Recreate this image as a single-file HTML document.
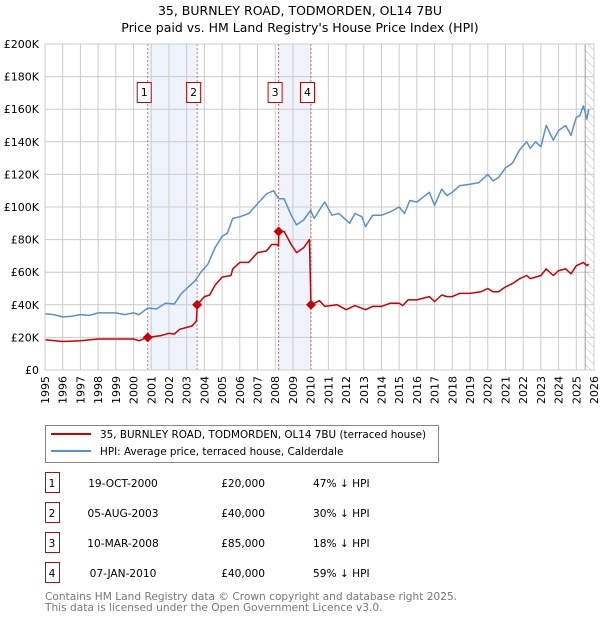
<!DOCTYPE html>
<html><head><meta charset="utf-8"><style>
body{margin:0;background:#fff;font-family:"DejaVu Sans","Liberation Sans",sans-serif;}
svg text{font-family:"DejaVu Sans","Liberation Sans",sans-serif;}
</style></head><body>
<svg id="c" width="600" height="620" xmlns="http://www.w3.org/2000/svg">
<defs><pattern id="hatch" width="6" height="6" patternUnits="userSpaceOnUse" patternTransform="rotate(-45)"><line x1="0" y1="0" x2="0" y2="6" stroke="#bbb" stroke-width="1"/></pattern></defs>
<text x="300" y="15" text-anchor="middle" font-size="12.5">35, BURNLEY ROAD, TODMORDEN, OL14 7BU</text>
<text x="300" y="32" text-anchor="middle" font-size="12.5">Price paid vs. HM Land Registry's House Price Index (HPI)</text>
<g id="plot"></g>
<g>
<rect x="45.5" y="425.5" width="393" height="37" fill="#fff" stroke="#888"/>
<line x1="51" y1="434" x2="91" y2="434" stroke="#cc0000" stroke-width="2"/>
<text x="100" y="438" font-size="10.4">35, BURNLEY ROAD, TODMORDEN, OL14 7BU (terraced house)</text>
<line x1="51" y1="451" x2="91" y2="451" stroke="#5b8fd0" stroke-width="2"/>
<text x="100" y="455" font-size="10.4">HPI: Average price, terraced house, Calderdale</text>
</g>
<g id="table"></g>
<text x="45" y="600" font-size="10.6" fill="#777">Contains HM Land Registry data © Crown copyright and database right 2025.</text>
<text x="45" y="611" font-size="10.6" fill="#777">This data is licensed under the Open Government Licence v3.0.</text>
</svg>
<script>
const hpiX=[1995,1995.5,1996,1996.5,1997,1997.5,1998,1999,1999.5,2000,2000.3,2000.8,2001.3,2001.8,2002.3,2002.7,2003,2003.5,2003.8,2004.2,2004.6,2005,2005.3,2005.6,2006,2006.5,2007,2007.5,2007.9,2008.2,2008.5,2008.9,2009.2,2009.6,2010,2010.2,2010.6,2010.8,2011.2,2011.6,2012.2,2012.5,2012.9,2013.1,2013.5,2014,2014.5,2015,2015.3,2015.6,2016,2016.7,2017,2017.4,2017.7,2018,2018.4,2019,2019.5,2020,2020.3,2020.6,2021,2021.4,2021.8,2022.2,2022.4,2022.7,2023,2023.3,2023.7,2024,2024.4,2024.7,2025,2025.2,2025.4,2025.6,2025.7];
const hpiY=[34.5,34,32.5,33,34,33.5,35,35,34,35,34,38,37.5,41,40.5,47,50,55,60,65,75,82,84,93,94,96,102,108,110,105,105,95,89,92,98,93,100,103,95,96,90,96,94,88,95,95,97,100,96,104,103,109,101,111,107,109,113,114,115,120,116,118,124,127,135,140,136,140,137,150,141,147,150,144,155,156,162,154,160];
const ppX=[1995,1996,1997,1998,1999,2000,2000.3,2000.8,2001.5,2002,2002.3,2002.6,2003.3,2003.55,2003.6,2004,2004.3,2004.6,2005,2005.5,2005.6,2006,2006.5,2007,2007.5,2007.8,2008.1,2008.18,2008.2,2008.5,2008.9,2009.2,2009.6,2009.93,2010.02,2010.5,2010.8,2011.5,2012,2012.5,2013.1,2013.5,2014,2014.5,2015,2015.2,2015.5,2016,2016.7,2017,2017.4,2017.7,2018,2018.4,2019,2019.6,2020,2020.3,2020.6,2021,2021.4,2021.8,2022.2,2022.4,2022.7,2023,2023.3,2023.7,2024,2024.4,2024.7,2025,2025.4,2025.6,2025.7];
const ppY=[18.5,17.5,18,19,19,19,18,20,21,22.5,22,25,27,30,40,45,46,52,57,58,62,66,66,72,73,77,77,76,85,85,77,72,75,80,40,42.5,39,40,37,39.5,37,39,39,41,41,39.5,43,43,45,42,46,45,45,47,47,48,50,48,48,51,53,56,58,56,57,58,62,58,61,62,59,64,66,64,65];
const saleX=[2000.8,2003.59,2008.19,2010.02];
const saleY=[20,40,85,40];
const saleLabels=["1","2","3","4"];
const saleDates=["19-OCT-2000","05-AUG-2003","10-MAR-2008","07-JAN-2010"];
const salePrices=["£20,000","£40,000","£85,000","£40,000"];
const salePct=["47% ↓ HPI","30% ↓ HPI","18% ↓ HPI","59% ↓ HPI"];
const yTicks=[0,20,40,60,80,100,120,140,160,180,200];
const yTickLabels=["£0","£20K","£40K","£60K","£80K","£100K","£120K","£140K","£160K","£180K","£200K"];
const xYears=[];for(let y=1995;y<=2026;y++)xYears.push(y);
const L=45,R=594,T=44,B=370;
const sx=v=>L+(v-1995)/(2026-1995)*(R-L);
const sy=v=>B-v/200*(B-T);
const NS="http://www.w3.org/2000/svg";
const g=document.getElementById('plot');
function mk(tag,at,parent){const e=document.createElementNS(NS,tag);for(const k in at)e.setAttribute(k,at[k]);(parent||g).appendChild(e);return e;}
mk('rect',{x:L,y:T,width:R-L,height:B-T,fill:'#fff'});
let b1=mk('rect',{x:sx(saleX[0]),y:T,width:sx(saleX[1])-sx(saleX[0]),height:B-T,fill:'#eef3fc'});


let b2=mk('rect',{x:sx(saleX[2]),y:T,width:sx(saleX[3])-sx(saleX[2]),height:B-T,fill:'#eef3fc'});


let hz=mk('rect',{x:sx(2025.5),y:T,width:R-sx(2025.5),height:B-T,fill:'url(#hatch)'});


xYears.forEach(y=>{
 mk('line',{x1:sx(y),y1:T,x2:sx(y),y2:B,stroke:'#ccc','stroke-width':1});
 const t=mk('text',{x:0,y:0,'font-size':11,'text-anchor':'end',transform:`translate(${sx(y)+4},${B+6}) rotate(-90)`});
 t.textContent=y;
 
 
});
yTicks.forEach((v,i)=>{
 mk('line',{x1:L,y1:sy(v),x2:R,y2:sy(v),stroke:'#ccc','stroke-width':1});
 const t=mk('text',{x:L-6,y:sy(v)+4,'font-size':11,'text-anchor':'end'});
 t.textContent=yTickLabels[i];
 
 
});
mk('line',{x1:sx(2025.5),y1:T,x2:sx(2025.5),y2:B,stroke:'#888','stroke-width':0.8});
saleX.forEach((x,i)=>{
 const l=mk('line',{x1:sx(x),y1:T,x2:sx(x),y2:B,stroke:'#e05050','stroke-width':0.8,'stroke-dasharray':'2,2'});
 
 
});
function path(xs,ys,col,name){
 const d=xs.map((x,i)=>(i?'L':'M')+sx(x).toFixed(1)+','+sy(ys[i]).toFixed(1)).join('');
 const p=mk('path',{d:d,fill:'none',stroke:col,'stroke-width':1.5,'stroke-linejoin':'round'});
 
 
}
path(hpiX,hpiY,'#5b8fd0','hpi-line');
path(ppX,ppY,'#cc0000','price-paid-line');
saleX.forEach((x,i)=>{
 const cx=sx(x),cy=sy(saleY[i]);
 const d=mk('polygon',{points:`${cx},${cy-5} ${cx+5},${cy} ${cx},${cy+5} ${cx-5},${cy}`,fill:'#cc0000'});
 
 
 const r=mk('rect',{x:cx-10.5,y:82.5,width:14,height:20,fill:'#fff',stroke:'#cc0000'});
 
 
 const t=mk('text',{x:cx-3.5,y:96,'font-size':11,'text-anchor':'middle'});
 t.textContent=saleLabels[i];
 
 
});
mk('rect',{x:L,y:T,width:R-L,height:B-T,fill:'none',stroke:'#ccc'});
const tb=document.getElementById('table');
saleLabels.forEach((s,i)=>{
 const y=483+i*30;
 const r=mk('rect',{x:45.5,y:y-10.5,width:14,height:20,fill:'#fff',stroke:'#cc0000'},tb);
 
 
 const cells=[[52,s,'middle'],[123,saleDates[i],'middle'],[265,salePrices[i],'end'],[313,salePct[i],'start']];
 cells.forEach(c=>{const t=mk('text',{x:c[0],y:y+4,'font-size':10.6,'text-anchor':c[2]},tb);t.textContent=c[1];
 
 });
});
</script>
</body></html>
